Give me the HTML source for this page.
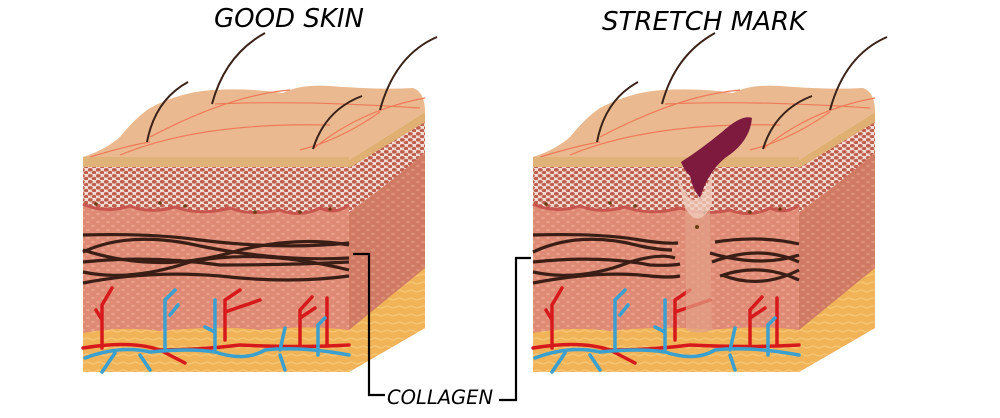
<!DOCTYPE html>
<html><head><meta charset="utf-8"><style>
html,body{margin:0;padding:0;background:#fff;}
svg{display:block;}
text{font-family:"DejaVu Sans","Liberation Sans",sans-serif;font-style:oblique;}
</style></head><body>
<svg width="1000" height="418" viewBox="0 0 1000 418" xmlns="http://www.w3.org/2000/svg">
<defs>
<pattern id="cells" width="8" height="6" patternUnits="userSpaceOnUse">
<rect width="8" height="6" fill="#f2dcd4"/>
<ellipse cx="2.2" cy="1.8" rx="2.6" ry="1.8" fill="#bf5f4e"/>
<ellipse cx="6.2" cy="4.6" rx="2.5" ry="1.7" fill="#bf5f4e"/>
</pattern>
<pattern id="derm" width="10" height="8" patternUnits="userSpaceOnUse">
<rect width="10" height="8" fill="#de8a74"/>
<ellipse cx="3" cy="2" rx="2" ry="1.4" fill="#eaa08a"/>
<ellipse cx="8" cy="6" rx="1.8" ry="1.3" fill="#eaa08a"/>
</pattern>
<pattern id="dermS" width="10" height="8" patternUnits="userSpaceOnUse">
<rect width="10" height="8" fill="#d07a64"/>
<ellipse cx="3" cy="2" rx="2" ry="1.4" fill="#dc9078"/>
<ellipse cx="8" cy="6" rx="1.8" ry="1.3" fill="#dc9078"/>
</pattern>
<pattern id="fat" width="12" height="8" patternUnits="userSpaceOnUse">
<rect width="12" height="8" fill="#f1b357"/>
<path d="M0 3 q3 -2 6 0 t6 0" stroke="#f7c877" stroke-width="1.2" fill="none"/>
</pattern>
<g id="block">
<path d="M349 160 L425 115 L425 328 L349 372 Z" fill="url(#dermS)"/>
<path d="M349 168 L425 122 L425 152 Q400 175 349 212 Z" fill="url(#cells)"/>
<path d="M349 160 L425 112 L425 122 L349 168 Z" fill="#dfb072"/>
<path d="M349 330 L425 268 L425 328 L349 372 Z" fill="url(#fat)"/>
<path d="M83 157 Q105 150 120 137 Q135 118 150 108 Q180 92 213 90 Q250 88 283 93 Q300 84 330 86 Q380 90 413 88 Q425 92 425 112 L349 160 Z" fill="#eab98f"/>
<path d="M120 155 Q200 122 330 125 M150 137 Q230 95 290 90 M215 104 Q300 100 420 108 M313 149 Q360 110 425 98 M90 157 Q130 145 150 142 M300 150 Q340 140 380 112" stroke="#ef7a5a" stroke-width="1.2" fill="none"/>
<rect x="83" y="157" width="266" height="215" fill="url(#derm)"/>
<rect x="83" y="157" width="266" height="10" fill="#e1b277"/>
<path d="M83 167 H349 V205 Q335 215 320 208 Q300 218 280 210 Q250 216 230 208 Q200 216 175 207 Q150 214 130 206 Q105 214 83 204 Z" fill="url(#cells)"/>
<path d="M83 204 Q105 214 130 206 Q150 214 175 207 Q200 216 230 208 Q250 216 280 210 Q300 218 320 208 Q335 215 349 205" stroke="#c9564e" stroke-width="3" fill="none"/>
<g fill="#6a3a10"><circle cx="96" cy="204" r="1.8"/><circle cx="160" cy="203" r="1.8"/><circle cx="185" cy="206" r="1.8"/><circle cx="255" cy="212" r="1.8"/><circle cx="300" cy="212" r="1.8"/><circle cx="330" cy="209" r="1.8"/></g>
<path d="M83 333 Q120 326 160 331 Q220 325 260 330 Q310 325 349 330 V372 H83 Z" fill="url(#fat)"/>
<g fill="none" stroke-linecap="round">
<path d="M83 348 Q130 340 160 350 Q200 350 240 345 Q300 348 349 345 M102 348 V305 L112 288 M102 320 L96 310 M225 340 V300 L240 290 M225 312 L260 300 M300 345 V310 L312 297 M300 318 L315 308 M327 345 V298 M160 350 L185 363" stroke="#d7191c" stroke-width="3.5"/>
<path d="M85 358 Q120 345 150 352 Q190 348 215 352 Q245 362 265 350 Q300 346 349 355 M215 352 V300 M215 332 L205 327 M165 350 V300 L175 290 M170 315 L178 305 M115 353 L102 372 M140 355 L150 370 M280 350 L285 328 M318 355 V325 L325 318 M280 355 L285 370" stroke="#3aa0d0" stroke-width="3.5"/>
</g>
<g fill="none" stroke="#3a2218" stroke-width="2">
<path d="M147 142 Q155 100 188 82"/>
<path d="M212 104 Q225 55 265 33"/>
<path d="M313 149 Q325 110 362 96"/>
<path d="M380 110 Q395 55 437 37"/>
</g>
</g>
</defs>

<use href="#block"/>
<g transform="translate(450,0)"><use href="#block"/></g>

<g fill="none" stroke="#3a1e16" stroke-width="3.2">
<path d="M83 235 Q150 233 200 240 Q280 250 349 243"/>
<path d="M83 252 Q130 230 200 246 Q280 262 349 258"/>
<path d="M83 262 Q150 255 220 265 Q290 265 349 262"/>
<path d="M83 272 Q130 282 190 262 Q260 248 349 270"/>
<path d="M83 283 Q150 270 220 276 Q290 284 349 276"/>
<path d="M83 250 Q160 275 240 250 Q300 236 349 245"/>
</g>

<path d="M685 205 Q700 230 710 205 L712 330 Q700 335 686 330 Z" fill="#e3a088" opacity="0.7"/>
<path d="M676 170 Q695 230 712 170 L712 205 Q697 232 684 205 Z" fill="#f1cdbd" opacity="0.8"/>
<circle cx="697" cy="227" r="2" fill="#6a3a10"/>
<g fill="none" stroke="#3a1e16" stroke-width="3.2">
<path d="M533 235 Q600 233 640 240 Q665 244 678 243"/>
<path d="M533 252 Q580 230 640 246 Q660 250 672 250"/>
<path d="M533 262 Q600 255 650 265 Q670 266 680 264"/>
<path d="M533 272 Q580 282 630 262 Q660 253 675 258"/>
<path d="M533 283 Q600 270 650 276 Q670 278 680 276"/>
<path d="M715 242 Q760 235 799 244"/>
<path d="M710 253 Q760 268 799 255"/>
<path d="M712 262 Q760 244 799 262"/>
<path d="M722 275 Q760 290 799 270"/>
<path d="M720 276 Q760 262 799 280"/>
</g>
<path d="M681 162 Q700 150 722 132 Q742 114 752 118 Q750 142 725 158 Q708 172 700 198 Q692 188 690 176 Q684 170 681 162 Z" fill="#7d1a3e"/>

<g fill="none" stroke="#000" stroke-width="2.2">
<path d="M353 254 H369 V395 H385"/>
<path d="M499 400 H516 V258 H531"/>
</g>
<text x="387" y="404" font-size="19.5">COLLAGEN</text>

<text x="289" y="27" font-size="26" text-anchor="middle">GOOD SKIN</text>
<text x="602" y="30" font-size="26">STRETCH  MARK</text>
</svg>
</body></html>
